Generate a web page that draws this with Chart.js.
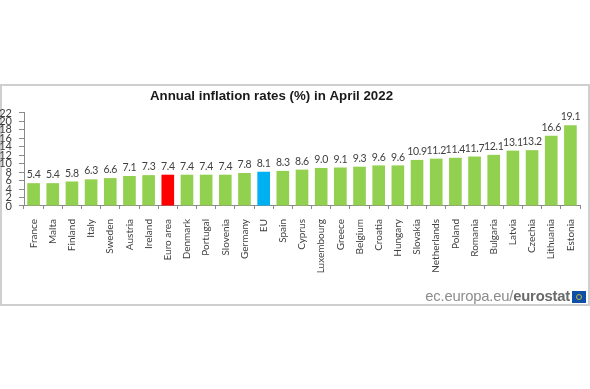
<!DOCTYPE html>
<html><head><meta charset="utf-8">
<script src="https://cdn.jsdelivr.net/npm/chart.js@4"></script>
<style>
html,body{margin:0;padding:0;background:#fff;overflow:hidden}
#wrap{position:relative;width:590px;height:389px;filter:blur(0.35px)}
#frame{position:absolute;left:0;top:84px;width:586px;height:218px;border:2px solid #cfcfcf}
canvas{position:absolute;left:0;top:0}
#src{position:absolute;right:20px;top:288px;font:14.8px "Liberation Sans";color:#8c8c8c;white-space:nowrap;letter-spacing:-.2px}
#src b{color:#6a6a6a}
#flag{position:absolute;left:572px;top:291px;width:14px;height:12px;background:#0d4ea6}
#flag i{position:absolute;left:4px;top:3px;width:4px;height:4px;border:1px solid #c9b23a;border-radius:50%}
</style></head><body>
<div id="wrap">
<div id="frame"></div>
<canvas id="c" width="590" height="389"></canvas>
<div id="src">ec.europa.eu/<b>eurostat</b></div>
<div id="flag"><i></i></div>
</div>
<script>
const titleText = "Annual inflation rates (%) in April 2022";
const categories = ["France","Malta","Finland","Italy","Sweden","Austria","Ireland","Euro area","Denmark","Portugal","Slovenia","Germany","EU","Spain","Cyprus","Luxembourg","Greece","Belgium","Croatia","Hungary","Slovakia","Netherlands","Poland","Romania","Bulgaria","Latvia","Czechia","Lithuania","Estonia"];
const rates = [5.4,5.4,5.8,6.3,6.6,7.1,7.3,7.4,7.4,7.4,7.4,7.8,8.1,8.3,8.6,9.0,9.1,9.3,9.6,9.6,10.9,11.2,11.4,11.7,12.1,13.1,13.2,16.6,19.1];
const barColors = categories.map(c => c === "Euro area" ? "#FF0000" : c === "EU" ? "#00B0F0" : "#92D050");

const valueLabels = {
  id: "valueLabels",
  afterDatasetsDraw(chart) {
    const ctx = chart.ctx, meta = chart.getDatasetMeta(0);
    ctx.save();
    ctx.font = '10.5px Lato';
    ctx.letterSpacing = "-0.3px";
    ctx.fillStyle = "#404040";
    ctx.textAlign = "center";
    ctx.textBaseline = "bottom";
    meta.data.forEach((el, i) => ctx.fillText(rates[i].toFixed(1), el.x, el.y - 3));
    ctx.restore();
  }
};
const titlePlacement = {
  id: "titlePlacement",
  afterLayout(chart) {
    const t = chart.titleBlock;
    t.left = 0; t.right = 543;
  }
};

new Chart(document.getElementById("c"), {
  type: "bar",
  data: { labels: categories, datasets: [{ data: rates, backgroundColor: barColors, categoryPercentage: 1, barPercentage: 0.66 }] },
  plugins: [valueLabels, titlePlacement],
  options: {
    responsive: false, animation: false,
    layout: { padding: { left: 0, right: 10, top: 0, bottom: 0 } },
    plugins: {
      legend: { display: false }, tooltip: { enabled: false },
      title: { display: true, text: titleText, color: "#1a1a1a",
        font: { family: "Liberation Sans", size: 13.3, weight: "bold" },
        padding: { top: 88, bottom: 9 } }
    },
    scales: {
      x: {
        afterFit(s) { s.height = 183; s.paddingLeft = 0; s.paddingRight = 0; },
        grid: { drawOnChartArea: false, offset: true, tickLength: 3, color: "#8a8a8a" },
        border: { color: "#8a8a8a" },
        ticks: { autoSkip: false, minRotation: 90, maxRotation: 90, padding: 10, color: "#404040", font: { family: "Lato", size: 10 } }
      },
      y: {
        min: 0, max: 22,
        afterFit(s) { s.width = 24; },
        grid: { drawOnChartArea: false, tickLength: 5, color: "#8a8a8a" },
        border: { color: "#8a8a8a" },
        ticks: { stepSize: 2, autoSkip: false, padding: 7, color: "#404040", font: { family: "Lato", size: 11 } }
      }
    }
  }
});
</script>
</body></html>
